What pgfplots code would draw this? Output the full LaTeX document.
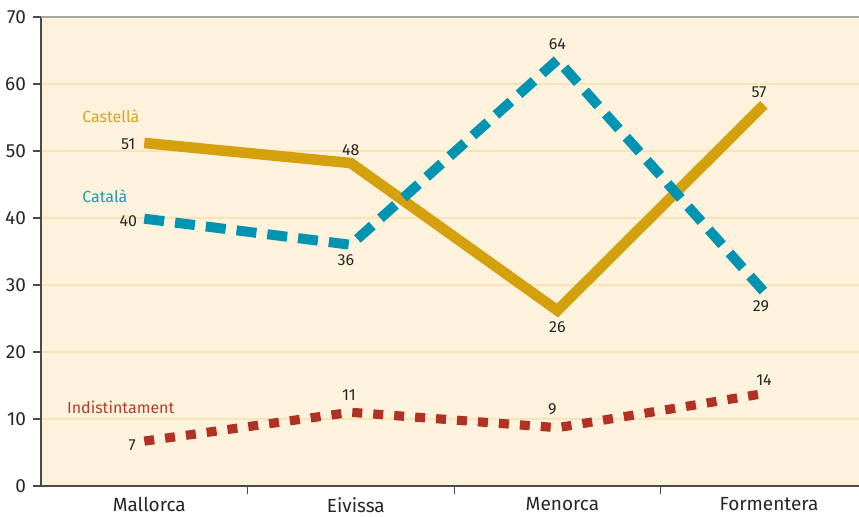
\documentclass[border=0pt]{standalone}
\usepackage{pgfplots}
\pgfplotsset{compat=1.18}
\usepackage{fontspec}
\setmainfont{Fira Sans}

\definecolor{bgcream}{HTML}{FDF3DC}
\definecolor{gridcream}{HTML}{FAE3B6}
\definecolor{cgold}{HTML}{D4A00C}
\definecolor{cteal}{HTML}{0093B2}
\definecolor{cred}{HTML}{B13225}
\definecolor{tgold}{HTML}{D9A421}
\definecolor{tteal}{HTML}{1C9BB8}
\definecolor{tred}{HTML}{BA3B2E}
\definecolor{axisgray}{HTML}{4A4A4A}

% x y dx dy lab
\pgfplotstableread{
x y dx dy lab
0 51.2 -8 -0.5 51
1 48.2 0 6.5 48
2 26.2 0 -8.5 26
3 56.9 -2.5 6.5 57
}\castella
\pgfplotstableread{
x y dx dy lab
0 39.9 -8 -1 40
1 36.0 -2.5 -7.5 36
2 63.6 0 8 64
3 29.0 -1.5 -7.5 29
}\catala
\pgfplotstableread{
x y dx dy lab
0 6.7 -6 -2 7
1 11.0 -1 8.5 11
2 8.7 -2.5 9 9
3 13.8 0 6.5 14
}\indist

\begin{document}
\begin{tikzpicture}
\begin{axis}[
  scale only axis,
  width=409pt, height=234.5pt,
  xmin=-0.5, xmax=3.46,
  ymin=0, ymax=70,
  axis lines=left,
  axis line style={-, draw=axisgray, line width=0.8pt},
  axis background/.style={fill=bgcream},
  ytick={0,10,...,70},
  ymajorgrids,
  major grid style={draw=gridcream, line width=0.6pt},
  extra y ticks={70},
  extra y tick labels={},
  extra y tick style={grid=major, major grid style={draw=gray!70, line width=0.8pt}, major tick length=0pt},
  xtick={0.5,1.5,2.5},
  xticklabels={},
  extra x ticks={0,1,2,3},
  extra x tick labels={Mallorca,Eivissa,Menorca,Formentera},
  extra x tick style={major tick length=0pt, grid=none},
  tick align=outside,
  major tick length=4pt,
  tick style={draw=axisgray, line width=0.6pt},
  /pgf/number format/assume math mode=true,
  ticklabel style={font=\fontsize{9.5}{11}\selectfont, text=black!85},
  xticklabel style={yshift=-2.2pt, xshift=2.5pt},
  clip=false,
  point meta=explicit symbolic,
  visualization depends on={\thisrow{dx} \as \dx},
  visualization depends on={\thisrow{dy} \as \dy},
  nodes near coords,
  every node near coord/.append style={anchor=center, inner sep=0pt,
    xshift=\dx pt, yshift=\dy pt, text=black!85,
    font=\fontsize{8}{9}\selectfont},
]
\addplot[cgold, line width=5.3pt, line join=miter] table[x=x, y=y, meta=lab] {\castella};
\addplot[cteal, line width=5pt, dash pattern=on 10pt off 5.5pt] table[x=x, y=y, meta=lab] {\catala};
\addplot[cred, line width=4.6pt, dash pattern=on 5pt off 5.5pt] table[x=x, y=y, meta=lab] {\indist};

\node[text=tgold, font=\fontsize{8}{9}\selectfont] at (axis cs:-0.162,55.2) {Castellà};
\node[text=tteal, font=\fontsize{8}{9}\selectfont] at (axis cs:-0.191,43.3) {Català};
\node[text=tred, font=\fontsize{8}{9}\selectfont] at (axis cs:-0.114,11.8) {Indistintament};
\end{axis}
\pgfresetboundingbox
\path[use as bounding box] (-20.5pt,-15pt) rectangle (409pt,243pt);
\end{tikzpicture}
\end{document}
